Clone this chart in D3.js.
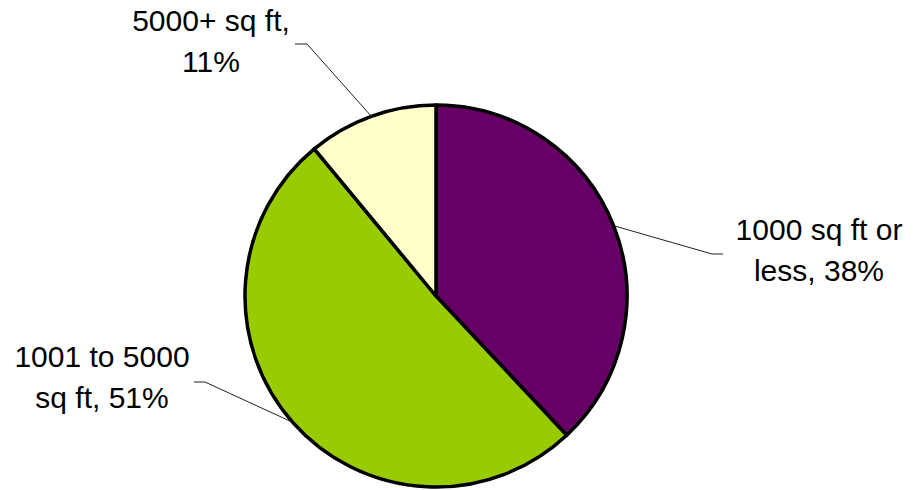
<!DOCTYPE html>
<html>
<head>
<meta charset="utf-8">
<script src="https://cdn.jsdelivr.net/npm/d3@7"></script>
<style>
  html, body { margin: 0; padding: 0; background: #fff; }
  svg { display: block; }
  text { font-family: "Liberation Sans", Arial, sans-serif; font-size: 30px; fill: #000; }
</style>
</head>
<body>
<svg id="chart" width="915" height="490"></svg>
<script>
// Building size categories and their shares (%)
const categories = ["1000 sq ft or less", "1001 to 5000 sq ft", "5000+ sq ft"];
const shares = [38, 51, 11];
const colors = ["#660066", "#99CC00", "#FFFFCC"];
// Two-line label text: first line, and the lead-in of the second line before the value
const labelLine1 = ["1000 sq ft or", "1001 to 5000", "5000+ sq ft,"];
const labelLine2Prefix = ["less, ", "sq ft, ", ""];

const svg = d3.select("#chart");
const cx = 436, cy = 296, r = 191;

const pie = d3.pie().sort(null).value(d => d);
const arcs = pie(shares);
const arc = d3.arc().innerRadius(0).outerRadius(r);

const g = svg.append("g").attr("transform", `translate(${cx},${cy})`);

g.selectAll("path.slice")
  .data(arcs)
  .join("path")
  .attr("class", "slice")
  .attr("d", arc)
  .attr("fill", (d, i) => colors[i])
  .attr("stroke", "#000")
  .attr("stroke-width", 3.5)
  .attr("stroke-linejoin", "round");

// Label placement (text centre + baseline of first line) and leader elbow
const labelLayout = [
  { x: 819, y: 240, elbowX: 712, endX: 723, elbowY: 254 },
  { x: 102, y: 367, elbowX: 205, endX: 194, elbowY: 382 },
  { x: 211, y: 31,  elbowX: 307, endX: 295, elbowY: 44 }
];
const lineGap = 41;

const labels = svg.append("g");
arcs.forEach((a, i) => {
  const L = labelLayout[i];
  const mid = (a.startAngle + a.endAngle) / 2;
  const px = cx + r * Math.sin(mid);
  const py = cy - r * Math.cos(mid);

  labels.append("polyline")
    .attr("points", `${px},${py} ${L.elbowX},${L.elbowY} ${L.endX},${L.elbowY}`)
    .attr("fill", "none")
    .attr("stroke", "#222")
    .attr("stroke-width", 1);

  const t = labels.append("text")
    .attr("text-anchor", "middle")
    .attr("x", L.x)
    .attr("y", L.y);
  t.append("tspan").attr("x", L.x).attr("y", L.y).text(labelLine1[i]);
  t.append("tspan").attr("x", L.x).attr("y", L.y + lineGap)
    .text(`${labelLine2Prefix[i]}${shares[i]}%`);
});
</script>
</body>
</html>
